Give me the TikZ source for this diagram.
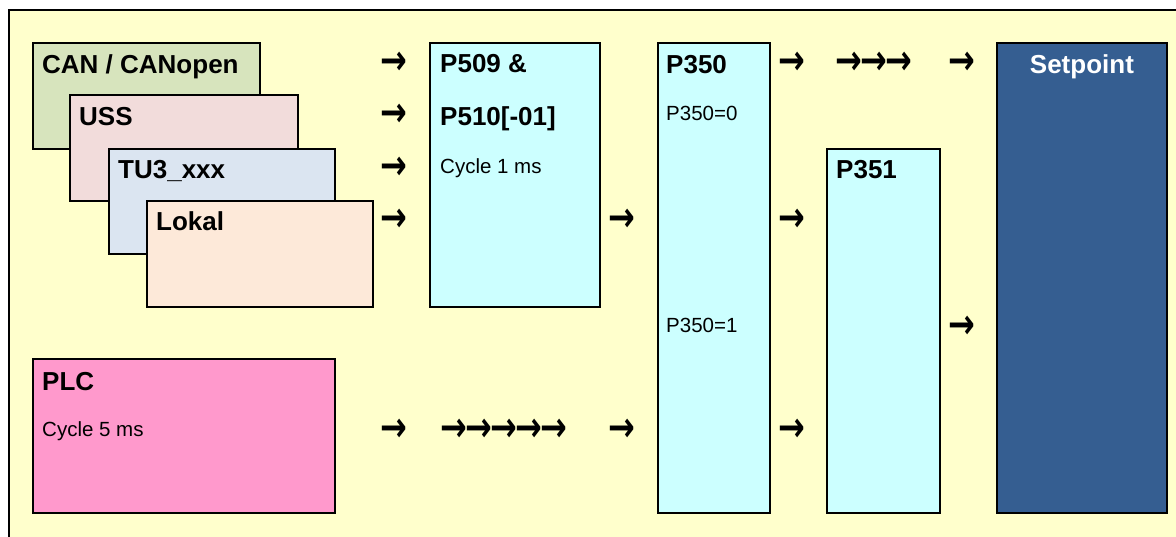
\documentclass[tikz,border=0pt]{standalone}
\usepackage{fontspec}
\setmainfont{Liberation Sans}
\newfontfamily\arrowfont{DejaVu Sans}
\usetikzlibrary{positioning}
\definecolor{SPbg}{RGB}{255,255,204}
\definecolor{SPcan}{RGB}{215,228,189}
\definecolor{SPuss}{RGB}{242,220,219}
\definecolor{SPtu}{RGB}{219,229,241}
\definecolor{SPlok}{RGB}{253,233,217}
\definecolor{SPpar}{RGB}{204,255,255}
\definecolor{SPplc}{RGB}{255,153,204}
\definecolor{SPset}{RGB}{53,94,145}
\newcommand{\ra}{→\kern-2pt}
\tikzset{
  blk/.style={draw=black,line width=1.8pt,anchor=north west,inner sep=0pt},
  head/.style={anchor=base west,inner sep=0pt,font=\fontsize{26}{30}\selectfont\bfseries},
  info/.style={anchor=base west,inner sep=0pt,font=\fontsize{20.5}{24}\selectfont},
  arr/.style={inner sep=0pt,yscale=1.3,transform shape,
              font=\arrowfont\bfseries\fontsize{32}{36}\selectfont}
}
\begin{document}
\begin{tikzpicture}[x=1pt,y=-1pt]
  \useasboundingbox (0,0) rectangle (1176,537);
  \clip (0,0) rectangle (1176,537);
  \fill[white] (0,0) rectangle (1176,537);
  % frame
  \draw[line width=1.8pt,fill=SPbg] (9,10) rectangle (1200,560);
  % sources
  \node[blk,fill=SPcan,minimum width=227,minimum height=106] (can) at (32,42) {};
  \node[head] (cant) at ([xshift=10pt,yshift=-32pt]can.north west) {CAN / CANopen};
  \node[blk,fill=SPuss,minimum width=228,minimum height=106] (uss) at (69,94) {};
  \node[head] (usst) at ([xshift=10pt,yshift=-32pt]uss.north west) {USS};
  \node[blk,fill=SPtu,minimum width=226,minimum height=105] (tu) at (108,148) {};
  \node[head] (tut) at ([xshift=10pt,yshift=-31pt]tu.north west) {TU3\_xxx};
  \node[blk,fill=SPlok,minimum width=226,minimum height=106] (lok) at (146,200) {};
  \node[head] (lokt) at ([xshift=10pt,yshift=-31pt]lok.north west) {Lokal};
  \node[blk,fill=SPplc,minimum width=302,minimum height=154] (plc) at (32,358) {};
  \node[head] (plct) at ([xshift=10pt,yshift=-33pt]plc.north west) {PLC};
  \node[info] (plcc) at ([xshift=10pt,yshift=-78pt]plc.north west) {Cycle 5 ms};
  % parameters
  \node[blk,fill=SPpar,minimum width=170,minimum height=264] (p509) at (429,42) {};
  \node[head] (p509a) at ([xshift=11pt,yshift=-31pt]p509.north west) {P509 \&};
  \node[head] (p509b) at ([xshift=11pt,yshift=-84pt]p509.north west) {P510[-01]};
  \node[info] (p509c) at ([xshift=11pt,yshift=-132pt]p509.north west) {Cycle 1 ms};
  \node[blk,fill=SPpar,minimum width=112,minimum height=470] (p350) at (657,42) {};
  \node[head] (p350t) at ([xshift=9pt,yshift=-32pt]p350.north west) {P350};
  \node[info] (p350a) at ([xshift=9pt,yshift=-79pt]p350.north west) {P350=0};
  \node[info] (p350b) at ([xshift=9pt,yshift=-291pt]p350.north west) {P350=1};
  \node[blk,fill=SPpar,minimum width=113,minimum height=364] (p351) at (826,148) {};
  \node[head] (p351t) at ([xshift=10pt,yshift=-31pt]p351.north west) {P351};
  \node[blk,fill=SPset,minimum width=170,minimum height=470] (setp) at (996,42) {};
  \node[head,anchor=base,text=white] (setpt) at ([yshift=-32pt]setp.north) {Setpoint};
  % arrows
  \node[arr] (a1) at (394,63) {→};
  \node[arr] (a2) at (394,115) {→};
  \node[arr] (a3) at (394,168) {→};
  \node[arr] (a4) at (394,220) {→};
  \node[arr] (a5) at (394,430) {→};
  \node[arr] (a6) at (504,430) {\ra\ra\ra\ra→};
  \node[arr] (a7) at (622,220) {→};
  \node[arr] (a8) at (622,430) {→};
  \node[arr] (a9) at (792,63) {→};
  \node[arr] (a10) at (874,63) {\ra\ra→};
  \node[arr] (a11) at (962,63) {→};
  \node[arr] (a12) at (792,220) {→};
  \node[arr] (a13) at (792,430) {→};
  \node[arr] (a14) at (962,327) {→};
\end{tikzpicture}
\end{document}
